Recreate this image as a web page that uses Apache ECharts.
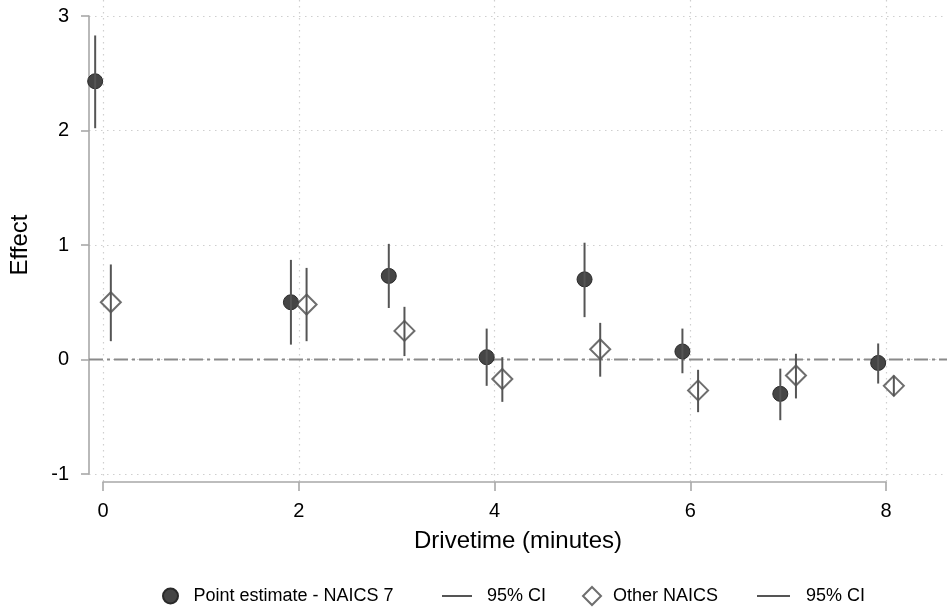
<!DOCTYPE html>
<html>
<head>
<meta charset="utf-8">
<script src="https://cdn.jsdelivr.net/npm/echarts@6/dist/echarts.min.js"></script>
<style>html,body{margin:0;padding:0;background:#fff;}#c{width:947px;height:609px;}</style>
</head>
<body>
<div id="c"></div>
<script>
// ---- data ----
const drivetimes = [0, 2, 3, 4, 5, 6, 7, 8];
const naicsEst = [2.43, 0.50, 0.73, 0.02, 0.70, 0.07, -0.30, -0.03];
const naicsLo  = [2.02, 0.13, 0.45, -0.23, 0.37, -0.12, -0.53, -0.21];
const naicsHi  = [2.83, 0.87, 1.01, 0.27, 1.02, 0.27, -0.08, 0.14];
const otherEst = [0.50, 0.48, 0.25, -0.17, 0.09, -0.27, -0.14, -0.23];
const otherLo  = [0.16, 0.16, 0.03, -0.37, -0.15, -0.46, -0.34, -0.32];
const otherHi  = [0.83, 0.80, 0.46, 0.02, 0.32, -0.09, 0.05, -0.14];
const xTickRange = [0, 8];
const yTickRange = [-1, 3];
const refLineY = 0;

// ---- layout / style ----
const DODGE = 0.08;
const FONT = '"Liberation Sans", Arial, Helvetica, sans-serif';
const AXIS_COLOR = '#a8a8a8';
const GRID_LINE = { color: '#cfcfcf', width: 1.2, type: [1.5, 4.5] };

const chart = echarts.init(document.getElementById('c'), null, { renderer: 'canvas' });

function ciSeries(name, est, lo, hi, off) {
  return {
    name: name, type: 'custom', xAxisIndex: 0, yAxisIndex: 0, clip: false, z: 5,
    itemStyle: { color: '#555' },
    encode: { x: 0, y: [1, 2] },
    data: drivetimes.map((d, i) => [d + off, lo[i], hi[i]]),
    renderItem: function (params, api) {
      const a = api.coord([api.value(0), api.value(1)]);
      const b = api.coord([api.value(0), api.value(2)]);
      return { type: 'line', shape: { x1: a[0], y1: a[1], x2: b[0], y2: b[1] },
               style: { stroke: '#555', lineWidth: 2 } };
    }
  };
}

const lineIcon = 'path://M0,0H30V2H0Z';
const legendText = { fontFamily: FONT, fontSize: 18, color: '#000' };

const option = {
  backgroundColor: '#fff',
  animation: false,
  grid: [
    { left: 103, right: 61, top: 16, bottom: 135 },  // data grid
    { left: 87, right: 0, top: 16, bottom: 135 },    // y axis frame
    { left: 103, right: 61, top: 0, bottom: 127 }    // x axis frame
  ],
  xAxis: [
    { gridIndex: 0, type: 'value', min: xTickRange[0], max: xTickRange[1], show: false },
    { gridIndex: 1, type: 'value', min: 0, max: 1, show: true,
      axisLine: { show: false }, axisTick: { show: false }, axisLabel: { show: false }, splitLine: { show: false },
      name: 'Drivetime (minutes)', nameLocation: 'middle', nameGap: 55,
      nameTextStyle: { fontFamily: FONT, fontSize: 24, color: '#000' } },
    { gridIndex: 2, type: 'value', min: xTickRange[0], max: xTickRange[1], interval: 2, offset: 6,
      axisLine: { show: true, lineStyle: { color: AXIS_COLOR, width: 1.6 } },
      axisTick: { show: true, length: 9, lineStyle: { color: AXIS_COLOR, width: 1.6 } },
      axisLabel: { fontFamily: FONT, fontSize: 20, color: '#000', margin: 13 },
      splitLine: { show: true, lineStyle: GRID_LINE } }
  ],
  yAxis: [
    { gridIndex: 0, type: 'value', min: yTickRange[0], max: yTickRange[1], show: false },
    { gridIndex: 1, type: 'value', min: yTickRange[0], max: yTickRange[1], interval: 1, offset: 7,
      axisLine: { show: true, lineStyle: { color: AXIS_COLOR, width: 1.6 } },
      axisTick: { show: true, length: 8, lineStyle: { color: AXIS_COLOR, width: 1.6 } },
      axisLabel: { fontFamily: FONT, fontSize: 20, color: '#000', margin: 13 },
      splitLine: { show: true, lineStyle: GRID_LINE },
      name: 'Effect', nameLocation: 'middle', nameGap: 50, nameRotate: 90,
      nameTextStyle: { fontFamily: FONT, fontSize: 24, color: '#000' } },
    { gridIndex: 2, type: 'value', min: 0, max: 1, show: false }
  ],
  legend: [
    { left: 162, top: 587, padding: 0, itemWidth: 36, itemHeight: 15, textStyle: legendText,
      data: [{ name: 'Point estimate - NAICS 7', icon: 'circle' }] },
    { left: 442, top: 587, padding: 0, itemWidth: 30, itemHeight: 15,
      textStyle: Object.assign({ padding: [0, 0, 0, 10] }, legendText),
      formatter: n => n.trim(), data: [{ name: '95% CI', icon: lineIcon }] },
    { left: 582, top: 586, padding: 0, itemWidth: 18, itemHeight: 18,
      textStyle: Object.assign({ padding: [0, 0, 0, 7] }, legendText),
      data: [{ name: 'Other NAICS', icon: 'diamond' }] },
    { left: 757, top: 587, padding: 0, itemWidth: 33, itemHeight: 15,
      textStyle: Object.assign({ padding: [0, 0, 0, 11] }, legendText),
      formatter: n => n.trim(), data: [{ name: '95% CI ', icon: lineIcon }] }
  ],
  series: [
    { name: 'refline', type: 'line', xAxisIndex: 1, yAxisIndex: 1, symbol: 'none', silent: true, z: 1,
      lineStyle: { color: '#8a8a8a', width: 2, type: [14, 4, 3, 4] },
      data: [[0, refLineY], [1, refLineY]] },
    { name: 'Point estimate - NAICS 7', type: 'scatter', xAxisIndex: 0, yAxisIndex: 0, clip: false, z: 3,
      symbol: 'circle', symbolSize: 15,
      itemStyle: { color: '#454545', borderColor: '#2a2a2a', borderWidth: 1, opacity: 1 },
      data: drivetimes.map((d, i) => [d - DODGE, naicsEst[i]]) },
    ciSeries('95% CI', naicsEst, naicsLo, naicsHi, -DODGE),
    { name: 'Other NAICS', type: 'scatter', xAxisIndex: 0, yAxisIndex: 0, clip: false, z: 3,
      symbol: 'diamond', symbolSize: 20,
      itemStyle: { color: 'rgba(255,255,255,0)', borderColor: '#4a4a4a', borderWidth: 2 },
      data: drivetimes.map((d, i) => [d + DODGE, otherEst[i]]) },
    ciSeries('95% CI ', otherEst, otherLo, otherHi, DODGE)
  ]
};
chart.setOption(option);
</script>
</body>
</html>
